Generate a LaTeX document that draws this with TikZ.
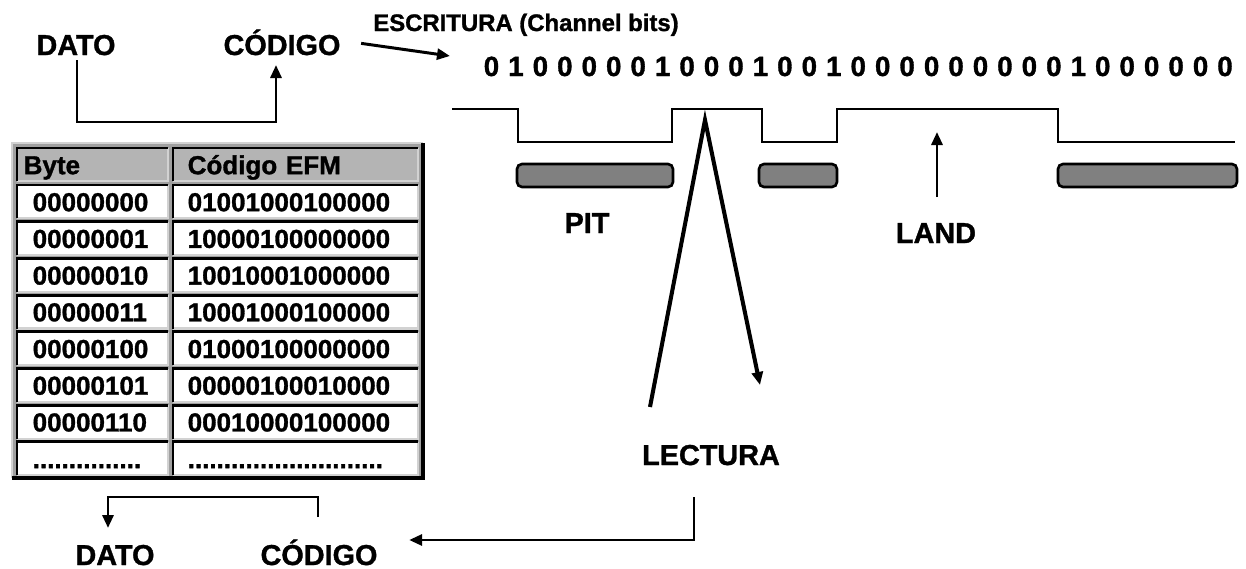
\documentclass[tikz,border=0pt]{standalone}
\usepackage{fontspec}
\setmainfont{Liberation Sans}[BoldFeatures={FakeBold=1.2}]
\usetikzlibrary{arrows.meta,positioning,calc}
\definecolor{Ink}{HTML}{000000}
\definecolor{TableBg}{HTML}{A0A0A0}
\definecolor{HeadFill}{HTML}{B4B4B4}
\definecolor{PitFill}{HTML}{808080}
\definecolor{EdgeLight}{HTML}{D2D2D2}
\newcommand{\dotsByte}{...............}
\newcommand{\dotsEfm}{...........................}

\begin{document}
\begin{tikzpicture}[x=1cm,y=1cm,>={Triangle[length=0.13cm,width=0.11cm]},
  lbl/.style={font=\fontsize{8.2}{9}\selectfont\bfseries,inner sep=0pt,anchor=base},
  lblsmall/.style={font=\fontsize{6.8}{8}\selectfont\bfseries,inner sep=0pt,anchor=base},
  bitdigit/.style={font=\fontsize{7.9}{9}\selectfont\bfseries,inner sep=0pt,anchor=base},
  flow/.style={->,Ink,line width=0.85pt},
  beam/.style={->,Ink,line width=1.15pt},
  pitbox/.style={fill=PitFill,draw=Ink,line width=0.75pt,rounded corners=0.05cm},
  cell/.style={inner ysep=0pt,minimum height=0.32cm,anchor=north west,align=left,
    text height=0.19cm,text depth=0pt,font=\fontsize{7.4}{8}\selectfont\bfseries},
  colA/.style={cell,fill=white,text width=1.20cm,inner xsep=0.15cm},
  colB/.style={cell,fill=white,text width=2.16cm,inner xsep=0.14cm},
  headA/.style={cell,fill=HeadFill,text width=1.38cm,inner xsep=0.06cm},
  headB/.style={cell,fill=HeadFill,text width=2.16cm,inner xsep=0.14cm}]

\useasboundingbox (0,0) rectangle (12.46,5.68);

\node[lbl] (datoTop) at (0.76,5.13) {DATO};
\node[lbl] (codigoTop) at (2.82,5.13) {CÓDIGO};
\draw[flow] ([xshift=0.01cm,yshift=-0.05cm]datoTop.base) -- ++(0,-0.62) -| ([xshift=-0.06cm,yshift=-0.10cm]codigoTop.base);

\node[lblsmall] (escritura) at (5.26,5.37) {ESCRITURA (Channel bits)};
\coordinate (escTip) at (4.50,5.12);
\draw[flow] ([xshift=0.20cm,yshift=-0.01cm]codigoTop.east) -- (escTip);

\foreach \b [count=\i from 0] in {0,1,0,0,0,0,0,1,0,0,0,1,0,0,1,0,0,0,0,0,0,0,0,0,1,0,0,0,0,0,0}
  \node[bitdigit] (bit\i) at ({4.915+0.2445*\i},4.92) {\b};

\draw[Ink,line width=0.7pt] (4.52,4.59) -- (5.18,4.59) -- (5.18,4.26) -- (6.72,4.26) -- (6.72,4.59) -- (7.62,4.59) -- (7.62,4.26) -- (8.37,4.26) -- (8.37,4.59) -- (10.58,4.59) -- (10.58,4.26) -- (12.35,4.26);

\draw[pitbox] (5.17,3.81) rectangle (6.73,4.04);
\draw[pitbox] (7.59,3.81) rectangle (8.37,4.04);
\draw[pitbox] (10.58,3.81) rectangle (12.37,4.04);

\node[lbl] (pit) at (5.87,3.35) {PIT};
\node[lbl] (land) at (9.36,3.25) {LAND};
\draw[flow] ([xshift=0.01cm,yshift=0.46cm]land.base) -- ++(0,0.65);

\coordinate (beamIn) at (6.50,1.61);
\coordinate (spot) at (7.05,4.48);
\coordinate (beamOut) at (7.60,1.83);
\draw[beam] (beamIn) -- (spot) -- (beamOut);

\node[lbl] (lectura) at (7.11,1.03) {LECTURA};

\node[lbl] (datoBot) at (1.15,0.03) {DATO};
\node[lbl] (codigoBot) at (3.19,0.03) {CÓDIGO};
\draw[flow] ([xshift=-0.17cm,yshift=-0.32cm]lectura.base) |- ([xshift=0.31cm,yshift=0.25cm]codigoBot.base -| codigoBot.east);
\draw[flow] ([xshift=-0.01cm,yshift=0.48cm]codigoBot.base) -- ++(0,0.20) -| ([xshift=-0.07cm,yshift=0.37cm]datoBot.base);

\fill[TableBg] (0.12,0.90) rectangle (4.23,4.25);
\draw[EdgeLight,line width=0.6pt] (0.12,0.90) |- (4.23,4.25);
\draw[Ink,line width=0.9pt] (0.12,0.90) -| (4.23,4.25);

\node[headA] (headByte) at (0.17,4.20) {Byte};
\node[headB] (headEfm) at (1.73,4.20) {Código EFM};
\foreach \n in {headByte,headEfm} {
  \draw[EdgeLight,line width=0.6pt] (\n.south west) -| (\n.north east);
  \draw[Ink,line width=0.85pt] (\n.south west) |- (\n.north east);
}

\foreach \byte/\efm [count=\r] in {00000000/01001000100000,00000001/10000100000000,
    00000010/10010001000000,00000011/10001000100000,00000100/01000100000000,
    00000101/00000100010000,00000110/00010000100000,\dotsByte/\dotsEfm} {
  \node[colA] (byte\r) at (0.17,{3.83-0.367*(\r-1)}) {\byte};
  \node[colB] (efm\r) at (1.73,{3.83-0.367*(\r-1)}) {\efm};
  \foreach \n in {byte\r,efm\r} {
    \draw[EdgeLight,line width=0.6pt] (\n.south west) -| (\n.north east);
    \draw[Ink,line width=0.85pt] (\n.south west) |- (\n.north east);
  }
}
\end{tikzpicture}
\end{document}
